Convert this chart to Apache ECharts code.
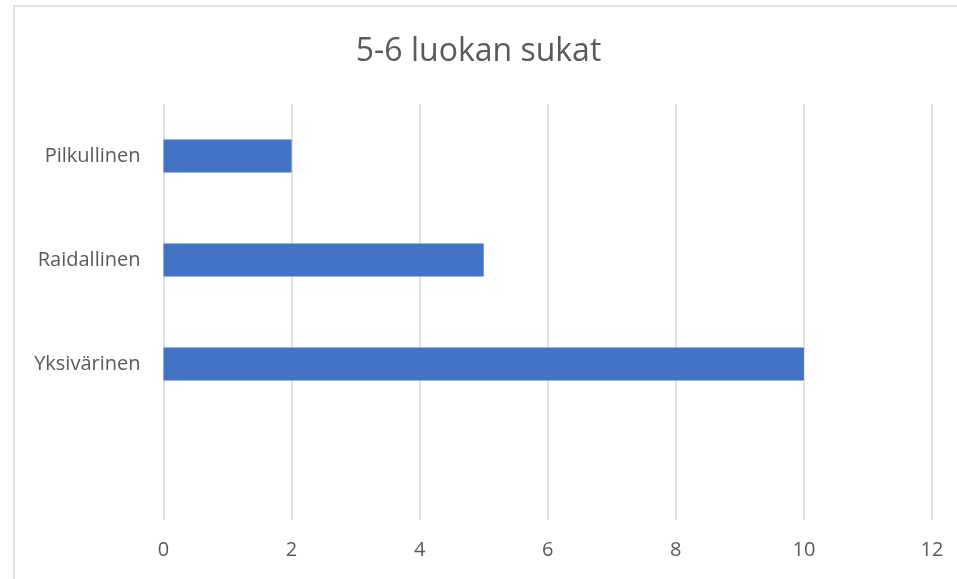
<!DOCTYPE html>
<html><head><meta charset="utf-8">
<script src="https://cdn.jsdelivr.net/npm/echarts@6/dist/echarts.min.js"></script>
<style>html,body{margin:0;padding:0;background:#fff}#c{width:957px;height:579px}</style>
</head><body><div id="c"></div>
<script>
const title = '5-6 luokan sukat';
const categories = ['', 'Yksivärinen', 'Raidallinen', 'Pilkullinen'];
const values = [null, 10, 5, 2];
const xTicks = {min: 0, max: 12, interval: 2};

const chart = echarts.init(document.getElementById('c'));
chart.setOption({
  animation: false,
  backgroundColor: '#fff',
  graphic: [{type: 'rect', shape: {x: 14, y: 6, width: 1000, height: 1000}, style: {fill: 'none', stroke: '#d9d9d9', lineWidth: 1.5}, silent: true}],
  title: {text: title, left: 'center', top: 31, textStyle: {fontFamily: 'Open Sans', fontSize: 32, fontWeight: 'normal', color: '#595959'}},
  grid: {left: 163.5, right: 25, top: 104, bottom: 59},
  xAxis: {type: 'value', min: xTicks.min, max: xTicks.max, interval: xTicks.interval,
    axisLine: {show: false}, axisTick: {show: false},
    splitLine: {lineStyle: {color: '#d9d9d9', width: 1.5}},
    axisLabel: {color: '#595959', fontFamily: 'Open Sans', fontSize: 20, margin: 20}},
  yAxis: {type: 'category', data: categories,
    axisLine: {show: false}, axisTick: {show: false},
    axisLabel: {color: '#595959', fontFamily: 'Open Sans', fontSize: 20, margin: 23}},
  series: [{type: 'bar', data: values, barWidth: 33, itemStyle: {color: '#4472C4'}}]
});
</script></body></html>
